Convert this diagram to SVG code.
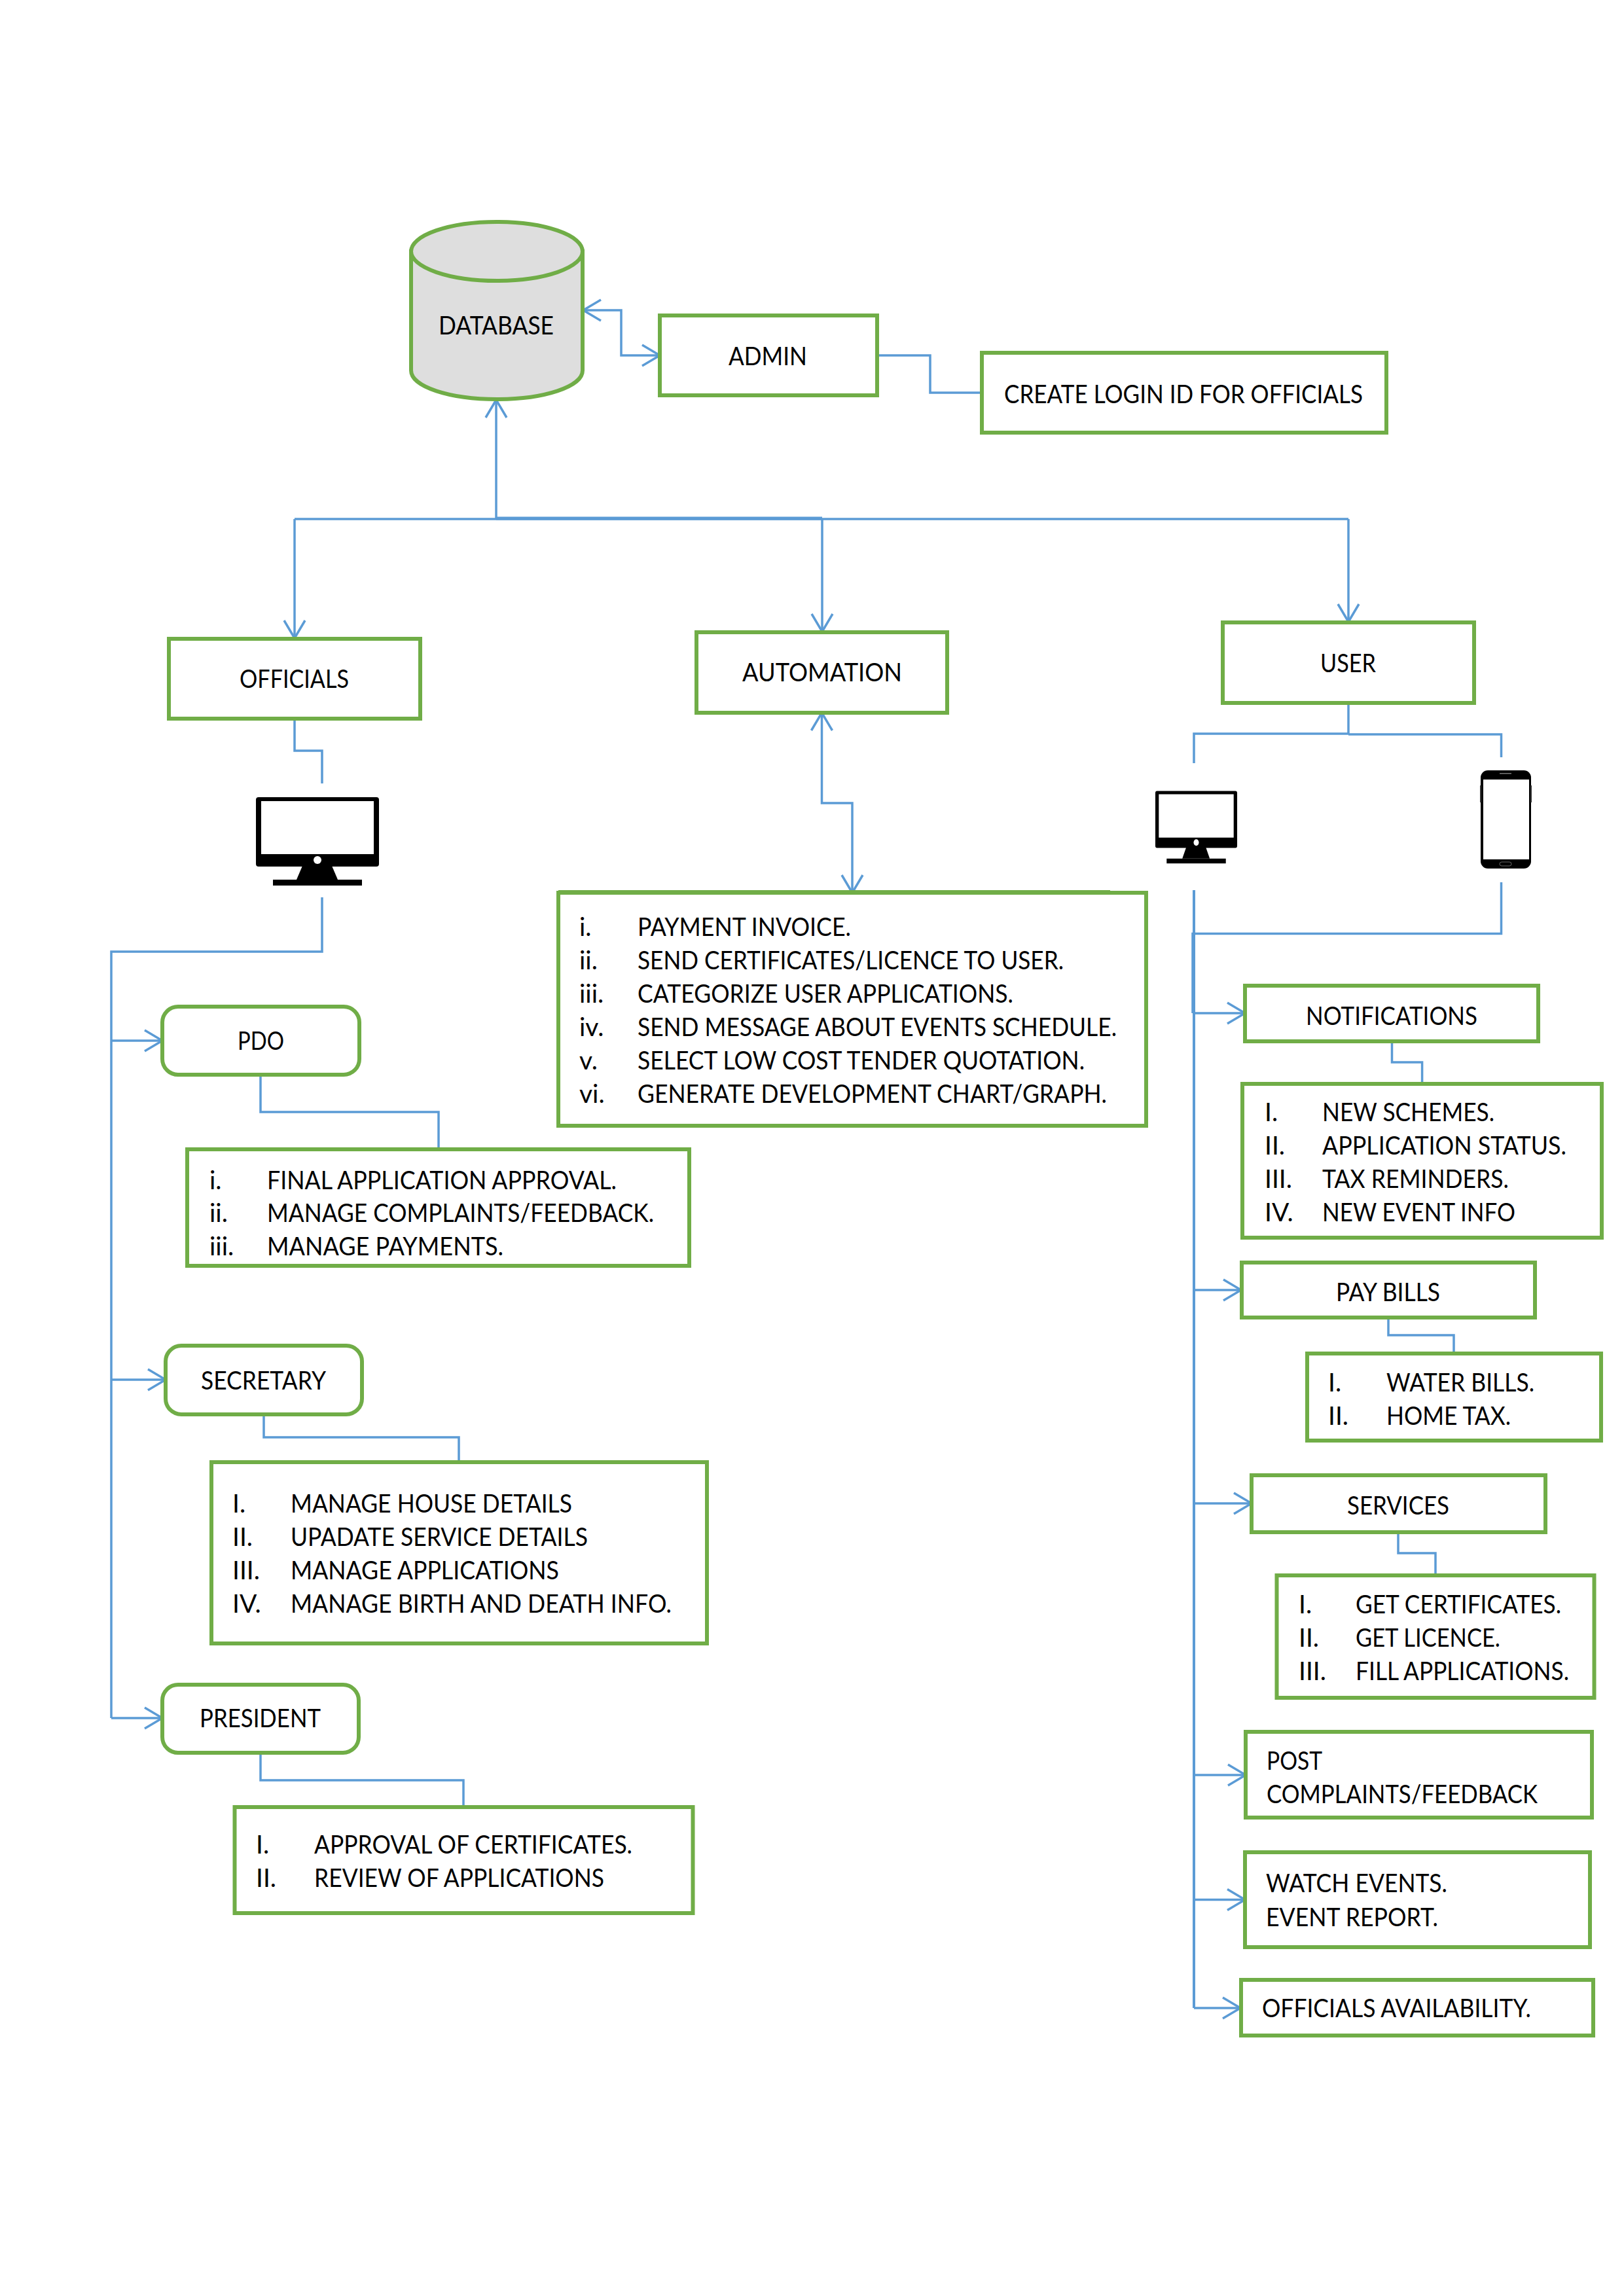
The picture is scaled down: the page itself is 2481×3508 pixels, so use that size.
<svg xmlns="http://www.w3.org/2000/svg" width="2481" height="3508" viewBox="0 0 2481 3508">
<style>
.b{fill:#fff;stroke:#70AD47;stroke-width:6}
.c{fill:none;stroke:#5B9BD5;stroke-width:3.5}
.a{marker-end:url(#v)}
.d{marker-start:url(#v);marker-end:url(#v)}
text{font-family:"Lato","Liberation Sans",sans-serif;font-size:39px;fill:#000}
</style>
<defs>
<marker id="v" markerUnits="userSpaceOnUse" markerWidth="40" markerHeight="44" refX="30" refY="20" orient="auto-start-reverse" viewBox="0 0 40 40" overflow="visible">
<path d="M3,4 L30,20 L3,36" fill="none" stroke="#5B9BD5" stroke-width="3.5"/>
</marker>
<g id="monitor">
<path fill-rule="evenodd" d="M4,0 H184 a4,4 0 0 1 4,4 V102 a4,4 0 0 1 -4,4 H4 a4,4 0 0 1 -4,-4 V4 a4,4 0 0 1 4,-4 Z M8,6 V87 H180 V6 Z"/>
<path d="M71,105 H116 L125,126 H62 Z"/>
<rect x="26" y="126" width="136" height="9"/>
<circle cx="94" cy="96" r="6" fill="#fff"/>
</g>
</defs>
<rect width="2481" height="3508" fill="#fff"/>
<g id="connectors">
<path class="c d" d="M891,474 H949 V543 H1008"/>
<path class="c" d="M1342,543 H1421 V600 H1499"/>
<path class="c a" d="M758,793 V611"/>
<path class="c a" d="M450,793 V975"/>
<path class="c" d="M450,793 H2060"/>
<path class="c" d="M758,792 H1256" style="stroke-width:5"/>
<path class="c a" d="M1256,793 V965"/>
<path class="c a" d="M2060,793 V950"/>
<path class="c" d="M450,1098 V1147 H492 V1197"/>
<path class="c" d="M492,1371 V1454 H170 V2625"/>
<path class="c a" d="M170,1590 H248"/>
<path class="c a" d="M170,2108 H253"/>
<path class="c a" d="M170,2625 H248"/>
<path class="c" d="M398,1642 V1699 H670 V1756"/>
<path class="c" d="M403,2161 V2196 H701 V2233"/>
<path class="c" d="M398,2678 V2720 H708 V2760"/>
<path class="c d" d="M1255.500,1089 V1227 H1302 V1364"/>
<path class="c" d="M2060,1074 V1122 M2060,1121 H1824 V1166 M2060,1122 H2293.500 V1157"/>
<path class="c" d="M1824,1360 V3068" style="stroke-width:4"/>
<path class="c" d="M2293.500,1348 V1426.500 H1822 V1548"/>
<path class="c a" d="M1822,1548 H1902"/>
<path class="c a" d="M1824,1971 H1896"/>
<path class="c a" d="M1824,2297 H1912"/>
<path class="c a" d="M1824,2712 H1903"/>
<path class="c a" d="M1824,2902.500 H1902"/>
<path class="c a" d="M1824,3068 H1895"/>
<path class="c" d="M2126.500,1591 V1623 H2172.600 V1656"/>
<path class="c" d="M2121,2013 V2040 H2221 V2068"/>
<path class="c" d="M2136,2341 V2373 H2193 V2407"/>
</g>
<g id="database">
<path d="M628,384 V566 C628,591 687,610 759,610 C831,610 890,591 890,566 V384 Z" fill="#DEDEDE" stroke="#70AD47" stroke-width="6"/>
<ellipse cx="759" cy="384" rx="131" ry="45" fill="#DEDEDE" stroke="#70AD47" stroke-width="6"/>
<text x="670" y="511" textLength="176" lengthAdjust="spacingAndGlyphs">DATABASE</text>
</g>
<g id="admin"><rect class="b" x="1008" y="482" width="332" height="122"/><text x="1113" y="558" textLength="120" lengthAdjust="spacingAndGlyphs">ADMIN</text></g>
<g id="login"><rect class="b" x="1500" y="539" width="618" height="122"/><text x="1534" y="616" textLength="548" lengthAdjust="spacingAndGlyphs">CREATE LOGIN ID FOR OFFICIALS</text></g>
<g id="officials"><rect class="b" x="258" y="976" width="384" height="122"/><text x="366" y="1051" textLength="167" lengthAdjust="spacingAndGlyphs">OFFICIALS</text></g>
<g id="automation"><rect class="b" x="1064" y="966" width="383" height="123"/><text x="1134" y="1041" textLength="244" lengthAdjust="spacingAndGlyphs">AUTOMATION</text></g>
<g id="user"><rect class="b" x="1868" y="951" width="384" height="123"/><text x="2017" y="1027" textLength="85" lengthAdjust="spacingAndGlyphs">USER</text></g>
<g id="monitor-officials"><use href="#monitor" x="391" y="1218"/></g>
<g id="monitor-user"><use href="#monitor" transform="translate(1765,1208.500) scale(.665,.82)"/></g>
<g id="phone">
<rect x="2262" y="1177" width="77" height="150" rx="11" fill="#000"/>
<rect x="2266" y="1191" width="70" height="122" fill="#fff"/>
<rect x="2261" y="1200" width="2" height="26" fill="#333"/>
<rect x="2338" y="1200" width="2" height="26" fill="#333"/>
<rect x="2291" y="1181" width="18" height="1.500" fill="#777"/>
<rect x="2291" y="1317" width="18" height="6" rx="3" fill="none" stroke="#666" stroke-width="1"/>
</g>
<g id="pdo"><rect class="b" x="248" y="1538" width="301" height="104" rx="24"/><text x="363" y="1604" textLength="71" lengthAdjust="spacingAndGlyphs">PDO</text></g>
<g id="pdo-list"><rect class="b" x="286" y="1756" width="767" height="178"/>
<text x="320" y="1817">i.</text><text x="408" y="1817" textLength="534" lengthAdjust="spacingAndGlyphs">FINAL APPLICATION APPROVAL.</text>
<text x="320" y="1867">ii.</text><text x="408" y="1867" textLength="591" lengthAdjust="spacingAndGlyphs">MANAGE COMPLAINTS/FEEDBACK.</text>
<text x="320" y="1918">iii.</text><text x="408" y="1918" textLength="361" lengthAdjust="spacingAndGlyphs">MANAGE PAYMENTS.</text></g>
<g id="secretary"><rect class="b" x="253" y="2056" width="300" height="105" rx="24"/><text x="307" y="2123" textLength="191" lengthAdjust="spacingAndGlyphs">SECRETARY</text></g>
<g id="secretary-list"><rect class="b" x="323" y="2234" width="757" height="277"/>
<text x="355" y="2311">I.</text><text x="444" y="2311" textLength="430" lengthAdjust="spacingAndGlyphs">MANAGE HOUSE DETAILS</text>
<text x="355" y="2362">II.</text><text x="444" y="2362" textLength="454" lengthAdjust="spacingAndGlyphs">UPADATE SERVICE DETAILS</text>
<text x="355" y="2413">III.</text><text x="444" y="2413" textLength="410" lengthAdjust="spacingAndGlyphs">MANAGE APPLICATIONS</text>
<text x="355" y="2464">IV.</text><text x="444" y="2464" textLength="582" lengthAdjust="spacingAndGlyphs">MANAGE BIRTH AND DEATH INFO.</text></g>
<g id="president"><rect class="b" x="248" y="2574" width="300" height="104" rx="24"/><text x="305" y="2639" textLength="185" lengthAdjust="spacingAndGlyphs">PRESIDENT</text></g>
<g id="president-list"><rect class="b" x="358.500" y="2761" width="700" height="162"/>
<text x="391" y="2832">I.</text><text x="480" y="2832" textLength="486" lengthAdjust="spacingAndGlyphs">APPROVAL OF CERTIFICATES.</text>
<text x="391" y="2883">II.</text><text x="480" y="2883" textLength="443" lengthAdjust="spacingAndGlyphs">REVIEW OF APPLICATIONS</text></g>
<g id="automation-list"><rect class="b" x="853" y="1364" width="898" height="356"/>
<path d="M853,1363 H1696" stroke="#70AD47" stroke-width="6"/>
<text x="885" y="1430">i.</text><text x="974" y="1430" textLength="326" lengthAdjust="spacingAndGlyphs">PAYMENT INVOICE.</text>
<text x="885" y="1481">ii.</text><text x="974" y="1481" textLength="651" lengthAdjust="spacingAndGlyphs">SEND CERTIFICATES/LICENCE TO USER.</text>
<text x="885" y="1532">iii.</text><text x="974" y="1532" textLength="574" lengthAdjust="spacingAndGlyphs">CATEGORIZE USER APPLICATIONS.</text>
<text x="885" y="1583">iv.</text><text x="974" y="1583" textLength="732" lengthAdjust="spacingAndGlyphs">SEND MESSAGE ABOUT EVENTS SCHEDULE.</text>
<text x="885" y="1634">v.</text><text x="974" y="1634" textLength="683" lengthAdjust="spacingAndGlyphs">SELECT LOW COST TENDER QUOTATION.</text>
<text x="885" y="1685">vi.</text><text x="974" y="1685" textLength="717" lengthAdjust="spacingAndGlyphs">GENERATE DEVELOPMENT CHART/GRAPH.</text></g>
<g id="notifications"><rect class="b" x="1902" y="1506" width="448" height="85"/><text x="1995" y="1566" textLength="262" lengthAdjust="spacingAndGlyphs">NOTIFICATIONS</text></g>
<g id="notifications-list"><rect class="b" x="1898" y="1656" width="549" height="235"/>
<text x="1932" y="1713">I.</text><text x="2020" y="1713" textLength="263" lengthAdjust="spacingAndGlyphs">NEW SCHEMES.</text>
<text x="1932" y="1764">II.</text><text x="2020" y="1764" textLength="373" lengthAdjust="spacingAndGlyphs">APPLICATION STATUS.</text>
<text x="1932" y="1815">III.</text><text x="2020" y="1815" textLength="285" lengthAdjust="spacingAndGlyphs">TAX REMINDERS.</text>
<text x="1932" y="1866">IV.</text><text x="2020" y="1866" textLength="295" lengthAdjust="spacingAndGlyphs">NEW EVENT INFO</text></g>
<g id="paybills"><rect class="b" x="1897" y="1929" width="448" height="84"/><text x="2041" y="1988" textLength="159" lengthAdjust="spacingAndGlyphs">PAY BILLS</text></g>
<g id="paybills-list"><rect class="b" x="1997" y="2068" width="449" height="133"/>
<text x="2029" y="2126">I.</text><text x="2118" y="2126" textLength="226" lengthAdjust="spacingAndGlyphs">WATER BILLS.</text>
<text x="2029" y="2177">II.</text><text x="2118" y="2177" textLength="190" lengthAdjust="spacingAndGlyphs">HOME TAX.</text></g>
<g id="services"><rect class="b" x="1912" y="2254" width="449" height="87"/><text x="2058" y="2314" textLength="156" lengthAdjust="spacingAndGlyphs">SERVICES</text></g>
<g id="services-list"><rect class="b" x="1950.500" y="2407" width="485" height="187"/>
<text x="1984" y="2465">I.</text><text x="2071" y="2465" textLength="314" lengthAdjust="spacingAndGlyphs">GET CERTIFICATES.</text>
<text x="1984" y="2516">II.</text><text x="2071" y="2516" textLength="221" lengthAdjust="spacingAndGlyphs">GET LICENCE.</text>
<text x="1984" y="2567">III.</text><text x="2071" y="2567" textLength="326" lengthAdjust="spacingAndGlyphs">FILL APPLICATIONS.</text></g>
<g id="post"><rect class="b" x="1903" y="2646" width="529" height="131"/>
<text x="1935" y="2704" textLength="85" lengthAdjust="spacingAndGlyphs">POST</text><text x="1935" y="2755" textLength="414" lengthAdjust="spacingAndGlyphs">COMPLAINTS/FEEDBACK</text></g>
<g id="watch"><rect class="b" x="1902" y="2830" width="527" height="145"/>
<text x="1934" y="2891" textLength="277" lengthAdjust="spacingAndGlyphs">WATCH EVENTS.</text><text x="1934" y="2943" textLength="263" lengthAdjust="spacingAndGlyphs">EVENT REPORT.</text></g>
<g id="availability"><rect class="b" x="1896" y="3025" width="538" height="85"/><text x="1928" y="3082" textLength="411" lengthAdjust="spacingAndGlyphs">OFFICIALS AVAILABILITY.</text></g>
</svg>
